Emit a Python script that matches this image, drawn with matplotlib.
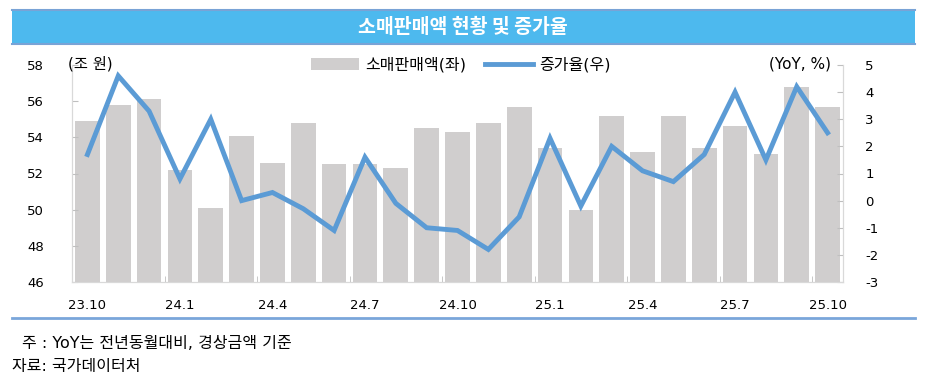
import matplotlib.pyplot as plt
from matplotlib.patches import Rectangle, Patch
from matplotlib.lines import Line2D

plt.rcParams["font.family"] = ["DejaVu Sans", "Noto Sans CJK KR"]
plt.rcParams["axes.unicode_minus"] = False

months = ["23.10", "23.11", "23.12", "24.1", "24.2", "24.3", "24.4", "24.5", "24.6",
          "24.7", "24.8", "24.9", "24.10", "24.11", "24.12", "25.1", "25.2", "25.3",
          "25.4", "25.5", "25.6", "25.7", "25.8", "25.9", "25.10"]
sales = [54.9, 55.8, 56.1, 52.2, 50.1, 54.1, 52.6, 54.8, 52.5, 52.5, 52.3, 54.5, 54.3,
         54.8, 55.7, 53.4, 50.0, 55.2, 53.2, 55.2, 53.4, 54.6, 53.1, 56.8, 55.7]
growth = [1.7, 4.6, 3.3, 0.8, 3.0, 0.0, 0.3, -0.3, -1.1, 1.6, -0.1, -1.0, -1.1,
          -1.8, -0.6, 2.3, -0.2, 2.0, 1.1, 0.7, 1.7, 4.0, 1.5, 4.2, 2.5]

W, H = 927, 375
fig = plt.figure(figsize=(W / 100, H / 100), dpi=100)

# title banner
fig.patches.append(Rectangle((12 / W, 1 - 44 / H), 903 / W, 34 / H, transform=fig.transFigure,
                             facecolor="#4DB9EE", edgecolor="none"))
for yy in (10, 44):
    fig.add_artist(Line2D([12 / W, 915 / W], [1 - yy / H] * 2, color="#79A3D6", lw=1.5))
fig.text(463 / W, 1 - 27 / H, "소매판매액 현황 및 증가율", color="white", fontsize=14,
         fontweight="bold", ha="center", va="center", family=["Noto Sans CJK KR"])

ax = fig.add_axes([72 / W, 1 - 282 / H, 771 / W, 217 / H])
x = list(range(len(months)))
ax.bar(x, sales, width=0.8, color="#D0CECE")
ax.set_ylim(46, 58)
ax.set_yticks(range(46, 59, 2))
ax.set_xlim(-0.5, len(months) - 0.5)
ax.set_xticks(x[::3])
ax.set_xticklabels(months[::3], fontsize=9.5)
ax.set_xticks([i + 2.5 for i in range(0, 22, 3)], minor=True)
ax.tick_params(axis="x", which="major", length=0, pad=12)
ax.tick_params(axis="x", which="minor", direction="in", length=4, color="#BFBFBF")
ax.tick_params(axis="y", direction="in", length=4, color="#BFBFBF", labelsize=9.5, pad=20)
ax.spines["top"].set_visible(False)
for s in ("left", "bottom", "right"):
    ax.spines[s].set_color("#D9D9D9")

ax2 = ax.twinx()
ax2.plot(x, growth, color="#5B9BD5", lw=3.5, solid_joinstyle="miter")
ax2.set_ylim(-3, 5)
ax2.set_yticks(range(-3, 6))
ax2.tick_params(axis="y", direction="in", length=4, color="#BFBFBF", labelsize=9.5, pad=16)
ax2.spines["top"].set_visible(False)
for s in ("left", "bottom", "right"):
    ax2.spines[s].set_color("#D9D9D9")

fig.text(68 / W, 1 - 64 / H, "(조 원)", fontsize=11, va="center", ha="left")
fig.text(831 / W, 1 - 64 / H, "(YoY, %)", fontsize=11, va="center", ha="right")

handles = [Patch(facecolor="#D0CECE", edgecolor="none"),
           Line2D([], [], color="#5B9BD5", lw=3.5)]
fig.legend(handles, ["소매판매액(좌)", "증가율(우)"], ncol=2, frameon=False, fontsize=11.5,
           loc="center", bbox_to_anchor=(461 / W, 1 - 65 / H), handlelength=3.0,
           handleheight=0.8, columnspacing=1.2, handletextpad=0.4)

# footer
fig.add_artist(Line2D([12 / W, 915 / W], [1 - 318 / H] * 2, color="#7AA6DA", lw=2))
fig.text(22 / W, 1 - 343 / H, "주 : YoY는 전년동월대비, 경상금액 기준", fontsize=11.5, va="center")
fig.text(12 / W, 1 - 366 / H, "자료: 국가데이터처", fontsize=11.5, va="center")

fig.savefig("out.png", dpi=100)
